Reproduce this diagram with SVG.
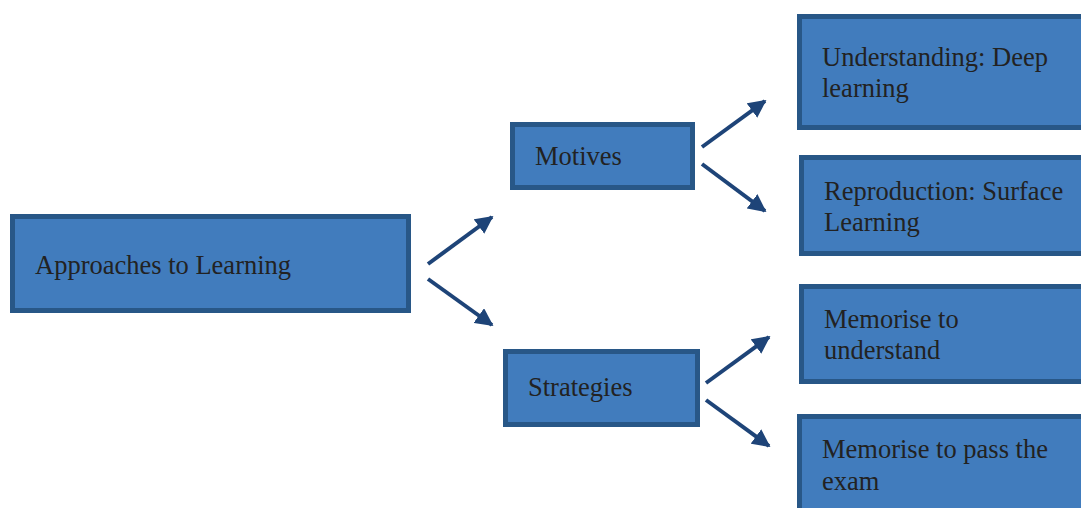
<svg xmlns="http://www.w3.org/2000/svg" width="1081" height="508" viewBox="0 0 1081 508">
<defs>
<style>
.box{fill:#417CBD;stroke:#285787;stroke-width:5}
.t{font-family:'Times New Roman','Liberation Serif','DejaVu Serif',serif;font-size:26.5px;fill:#222222}
.c{stroke:#1E4478;stroke-width:4;fill:none}
</style>
<marker id="ah" viewBox="0 0 10 10" refX="9" refY="5" markerWidth="4.5" markerHeight="4.5" markerUnits="strokeWidth" orient="auto">
<path d="M0,0 L10,5 L0,10 z" fill="#1E4478"/>
</marker>
</defs>
<rect width="1081" height="508" fill="#ffffff"/>
<g id="connectors">
<line class="c" x1="428" y1="264" x2="492" y2="217" marker-end="url(#ah)"/>
<line class="c" x1="428" y1="279" x2="492" y2="325" marker-end="url(#ah)"/>
<line class="c" x1="702" y1="147" x2="765" y2="101" marker-end="url(#ah)"/>
<line class="c" x1="702" y1="164" x2="765" y2="211" marker-end="url(#ah)"/>
<line class="c" x1="706" y1="383" x2="769" y2="337" marker-end="url(#ah)"/>
<line class="c" x1="706" y1="400" x2="769" y2="446" marker-end="url(#ah)"/>
</g>
<g id="approaches">
<rect class="box" x="12.5" y="216.5" width="396" height="94"/>
<text class="t" x="35" y="274">Approaches to Learning</text>
</g>
<g id="motives">
<rect class="box" x="512.5" y="124.5" width="180" height="63"/>
<text class="t" x="535" y="165">Motives</text>
</g>
<g id="strategies">
<rect class="box" x="505.5" y="351.5" width="192" height="73"/>
<text class="t" x="528" y="396">Strategies</text>
</g>
<g id="understanding">
<rect class="box" x="799.5" y="16.5" width="290" height="111"/>
<text class="t" x="822" y="66">Understanding: Deep</text>
<text class="t" x="822" y="97">learning</text>
</g>
<g id="reproduction">
<rect class="box" x="801.5" y="157.5" width="290" height="96"/>
<text class="t" x="824" y="200">Reproduction: Surface</text>
<text class="t" x="824" y="231">Learning</text>
</g>
<g id="memorise-understand">
<rect class="box" x="801.5" y="286.5" width="290" height="95"/>
<text class="t" x="824" y="328">Memorise to</text>
<text class="t" x="824" y="359">understand</text>
</g>
<g id="memorise-exam">
<rect class="box" x="799.5" y="416.5" width="290" height="100"/>
<text class="t" x="822" y="458">Memorise to pass the</text>
<text class="t" x="822" y="490">exam</text>
</g>
</svg>
